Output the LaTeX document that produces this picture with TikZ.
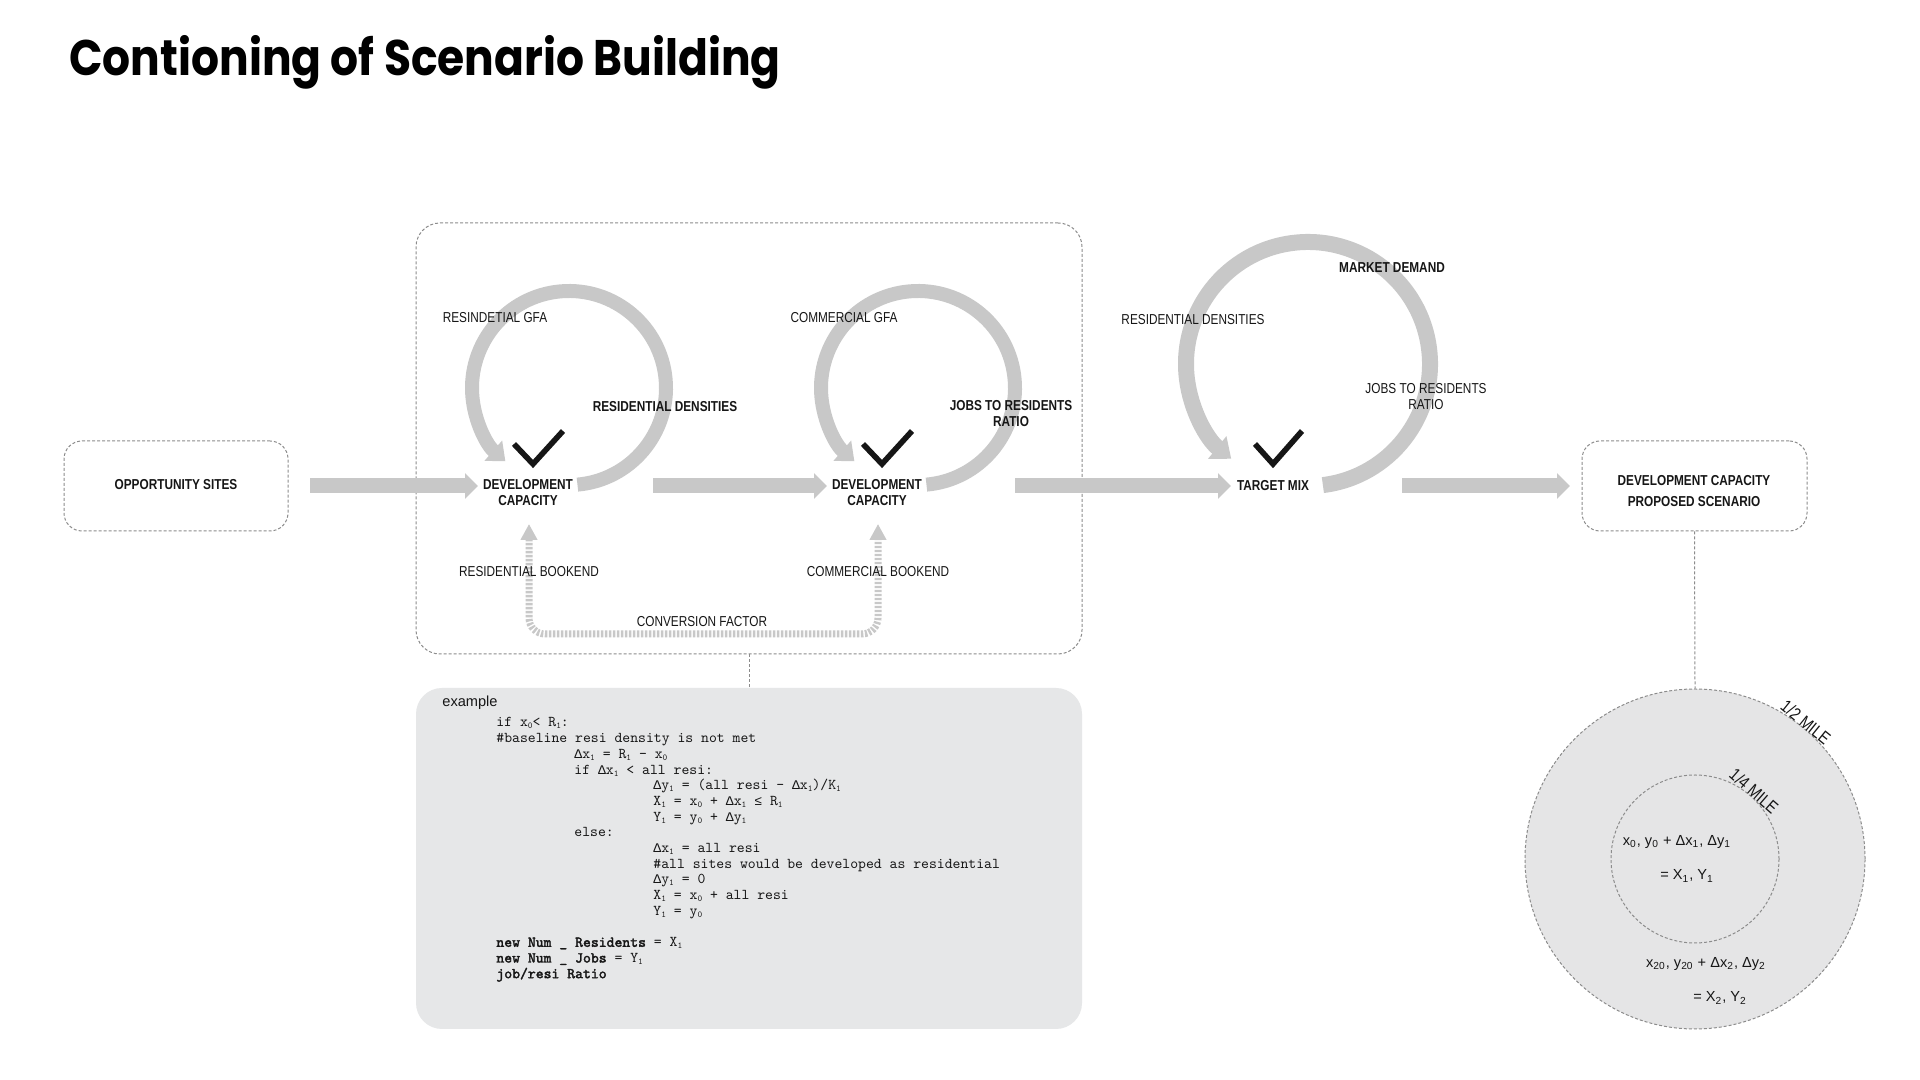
\documentclass[tikz,border=0pt]{standalone}
\usepackage{fontspec}
\setmainfont{Liberation Sans}
\newfontfamily\cond[FakeStretch=0.82]{Liberation Sans}
\newfontfamily\titlefont[FakeStretch=0.88]{Poppins}
\newfontfamily\codefont{lmmono10-regular}[Extension=.otf, BoldFont=lmmono10-regular, BoldFeatures={FakeBold=2.2}]
\newfontfamily\dmono{Liberation Mono}
\usetikzlibrary{arrows.meta,calc}
\definecolor{band}{RGB}{200,200,200}
\definecolor{dashgray}{RGB}{140,140,140}
\definecolor{boxfill}{RGB}{230,231,232}
\definecolor{circfill}{RGB}{229,229,230}
\definecolor{ink}{RGB}{22,22,22}
\newcommand\sbx[1]{\raisebox{-1pt}{\fontsize{4.5}{5}\selectfont #1}}
\newcommand\DD{{\dmono\fontsize{6.6}{7}\selectfont Δ}}
\newcommand\LEQ{{\dmono\fontsize{6.6}{7}\selectfont ≤}}
\begin{document}
\begin{tikzpicture}[x=0.5pt,y=0.5pt,
  flowarrow/.style={draw=band, line width=7.5pt, -{Triangle[width=12.5pt,length=6.5pt]}},
  looparrow/.style={draw=band, line width=7pt, -{Triangle[width=13pt,length=8pt]}},
  bookarrow/.style={draw=band, line width=3.5pt, dash pattern=on 1.2pt off 0.8pt,
     {Triangle[width=8pt,length=8pt]}-{Triangle[width=8pt,length=8pt]}, rounded corners=8pt},
  dashbox/.style={draw=dashgray, line width=0.5pt, dash pattern=on 1.5pt off 1pt},
  dashline/.style={draw=dashgray, line width=0.5pt, dash pattern=on 1.5pt off 1pt},
  lbl/.style={font=\cond\fontsize{7.2}{8}\selectfont, text=ink, inner sep=0pt, align=center},
  blbl/.style={font=\cond\bfseries\fontsize{7.2}{8}\selectfont, text=ink, inner sep=0pt, align=center},
  milelbl/.style={font=\cond\fontsize{8.8}{9}\selectfont, text=ink, inner sep=0pt},
  check/.style={draw=ink, line width=2.8pt},
  codeline/.style={font=\codefont\fontsize{7.5}{8}\selectfont, anchor=base west, inner sep=0pt, text=ink},
  formula/.style={font=\fontsize{7.3}{8}\selectfont, text=ink, inner sep=0pt},
]
\useasboundingbox (0,0) rectangle (1920,1080);
\fill[white] (0,0) rectangle (1920,1080);

% title
\node[anchor=base west, inner sep=0pt, font=\titlefont\bfseries\fontsize{25}{30}\selectfont] (title) at (69,1004) {Contioning of Scenario Building};

% boxes
\node[dashbox, rounded corners=9pt, minimum width=112pt, minimum height=45pt, inner sep=0pt] (opp) at (176,594) {};
\node[blbl] (oppt) at (176,595) {OPPORTUNITY SITES};
\node[dashbox, rounded corners=12pt, minimum width=333pt, minimum height=215.5pt, inner sep=0pt] (grp) at (749,641.5) {};
\node[fill=boxfill, rounded corners=13pt, minimum width=333pt, minimum height=170.5pt, inner sep=0pt] (exbox) at (749,221.5) {};
\draw[dashline] (grp.south) -- (exbox.north);
\node[dashbox, rounded corners=9pt, minimum width=112.5pt, minimum height=45pt, inner sep=0pt] (prop) at (1694.5,594) {};

% circles
\node[circle, draw=dashgray, fill=circfill, line width=0.5pt, dash pattern=on 1.5pt off 1pt, minimum size=170pt, inner sep=0pt] (outer) at (1695,221) {};
\node[circle, draw=dashgray, line width=0.5pt, dash pattern=on 1.5pt off 1pt, minimum size=84pt, inner sep=0pt] (inner) at (1695,221) {};
\draw[dashline] (prop.south) -- (outer.north);

% flow arrows
\coordinate (a1s) at (310,594); \coordinate (a1e) at (478,594);
\coordinate (a2s) at (653,594); \coordinate (a2e) at (827,594);
\coordinate (a3s) at (1015,594); \coordinate (a3e) at (1231,594);
\coordinate (a4s) at (1402,594); \coordinate (a4e) at (1570,594);
\draw[flowarrow] (a1s) -- (a1e);
\draw[flowarrow] (a2s) -- (a2e);
\draw[flowarrow] (a3s) -- (a3e);
\draw[flowarrow] (a4s) -- (a4e);

% loops
\coordinate (l1) at (569,692);
\coordinate (l2) at (918,692);
\coordinate (l3) at (1308,716);
\draw[looparrow] (l1) ++(-85:97) arc[start angle=-85, end angle=229, radius=97];
\draw[looparrow] (l2) ++(-85:97) arc[start angle=-85, end angle=229, radius=97];
\draw[looparrow, line width=8pt, -{Triangle[width=14pt,length=9pt]}] (l3) ++(-83:122) arc[start angle=-83, end angle=231, radius=122];

% bookend arrows
\coordinate (b1) at (529,556);
\coordinate (b2) at (878,556);
\draw[bookarrow] (b1) -- (529,446) -- (878,446) -- (b2);

% checkmarks
\draw[check] (514,636) -- (533,616) -- (563,649);
\draw[check] (863,636) -- (882,616) -- (912,649);
\draw[check] (1255,636) -- (1273,616) -- (1302,649);

% labels
\node[blbl] (dc1) at (528,587) {DEVELOPMENT\\CAPACITY};
\node[blbl] (dc2) at (877,587) {DEVELOPMENT\\CAPACITY};
\node[blbl] (tm) at (1273,594) {TARGET MIX};
\node[blbl, font=\cond\bfseries\fontsize{7.2}{10.5}\selectfont] (propt) at (1694,588.5) {DEVELOPMENT CAPACITY\\PROPOSED SCENARIO};
\node[lbl] (rgfa) at (495,762) {RESINDETIAL GFA};
\node[lbl] (cgfa) at (844,762) {COMMERCIAL GFA};
\node[blbl] (rden) at (665,673) {RESIDENTIAL DENSITIES};
\node[blbl] (jrr) at (1011,666) {JOBS TO RESIDENTS\\RATIO};
\node[lbl] (rbk) at (529,508) {RESIDENTIAL BOOKEND};
\node[lbl] (cbk) at (878,508) {COMMERCIAL BOOKEND};
\node[lbl] (conv) at (702,458) {CONVERSION FACTOR};
\node[blbl] (mkt) at (1392,812) {MARKET DEMAND};
\node[lbl] (rden2) at (1193,760) {RESIDENTIAL DENSITIES};
\node[lbl] (jrr2) at (1426,683) {JOBS TO RESIDENTS\\RATIO};

% example code
\node[anchor=base west, inner sep=0pt, font=\fontsize{7.3}{8}\selectfont, text=ink] (ex) at (442,373) {example};
\node[codeline] (c1) at (496,353) {if x\sbx{0}< R\sbx{1}:};
\node[codeline] (c2) at (496,337.3) {\#baseline resi density is not met};
\node[codeline] (c3) at (574,321.6) {\DD x\sbx{1} = R\sbx{1} - x\sbx{0}};
\node[codeline] (c4) at (574,305.9) {if \DD x\sbx{1} < all resi:};
\node[codeline] (c5) at (653,290.2) {\DD y\sbx{1} = (all resi - \DD x\sbx{1})/K\sbx{1}};
\node[codeline] (c6) at (653,274.5) {X\sbx{1} = x\sbx{0} + \DD x\sbx{1} \LEQ{} R\sbx{1}};
\node[codeline] (c7) at (653,258.8) {Y\sbx{1} = y\sbx{0} + \DD y\sbx{1}};
\node[codeline] (c8) at (574,243.1) {else:};
\node[codeline] (c9) at (653,227.4) {\DD x\sbx{1} = all resi};
\node[codeline] (c10) at (653,211.7) {\#all sites would be developed as residential};
\node[codeline] (c11) at (653,196) {\DD y\sbx{1} = 0};
\node[codeline] (c12) at (653,180.3) {X\sbx{1} = x\sbx{0} + all resi};
\node[codeline] (c13) at (653,164.6) {Y\sbx{1} = y\sbx{0}};
\node[codeline] (c14) at (496,133.2) {\textbf{new Num \_ Residents} = X\sbx{1}};
\node[codeline] (c15) at (496,117.5) {\textbf{new Num \_ Jobs} = Y\sbx{1}};
\node[codeline] (c16) at (496,101.8) {\textbf{job/resi Ratio}};

% circle formulas
\node[formula] (f1) at (1677,238) {x\textsubscript{0}, y\textsubscript{0} + Δx\textsubscript{1}, Δy\textsubscript{1}};
\node[formula] (f2) at (1687,204) {= X\textsubscript{1}, Y\textsubscript{1}};
\node[formula] (f3) at (1706,116) {x\textsubscript{20}, y\textsubscript{20} + Δx\textsubscript{2}, Δy\textsubscript{2}};
\node[formula] (f4) at (1720,82) {= X\textsubscript{2}, Y\textsubscript{2}};

% mile labels
\node[milelbl, rotate=-39] (half) at ($(outer.center)+(51:176)$) {1/2 MILE};
\node[milelbl, rotate=-41] (quarter) at ($(inner.center)+(49:90)$) {1/4 MILE};
\end{tikzpicture}
\end{document}
